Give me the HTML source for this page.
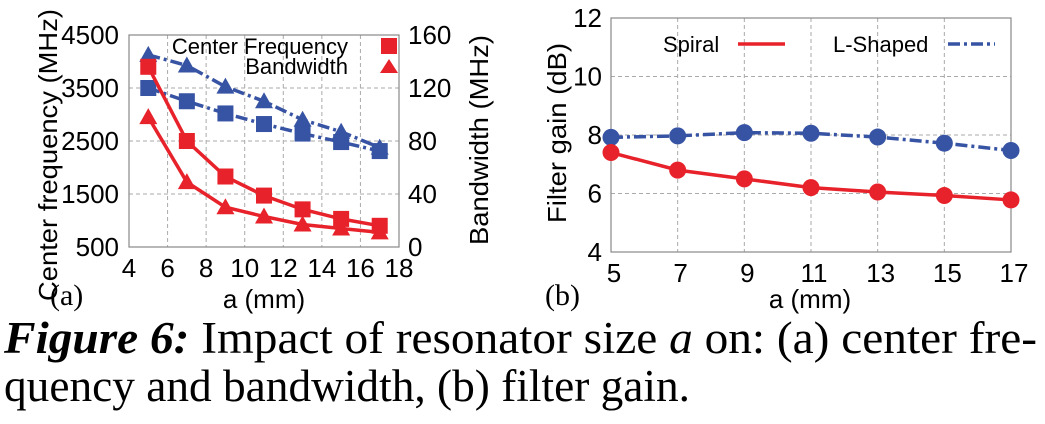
<!DOCTYPE html>
<html><head><meta charset="utf-8"><style>
html,body{margin:0;padding:0;background:#fff}
svg{display:block}
text{font-family:"Liberation Sans",sans-serif}
.serif{font-family:"Liberation Serif",serif}
</style></head><body>
<svg id="fig" width="1045" height="424" viewBox="0 0 1045 424" xmlns="http://www.w3.org/2000/svg">
<g id="ca"></g>
<g id="cb"></g>
<text class="serif" x="4" y="353" font-size="45" textLength="1033" lengthAdjust="spacingAndGlyphs"><tspan font-weight="bold" font-style="italic">Figure 6:</tspan> Impact of resonator size <tspan font-style="italic">a</tspan> on: (a) center fre-</text>
<text class="serif" x="4" y="401" font-size="45" textLength="686" lengthAdjust="spacingAndGlyphs">quency and bandwidth, (b) filter gain.</text>
</svg>
<script>
const aX = [5,7,9,11,13,15,17];
const aXTicks = [4,6,8,10,12,14,16,18];
const aYTicks = [500,1500,2500,3500,4500];
const aY2Ticks = [0,40,80,120,160];
const spiralFreq = [3900,2500,1830,1470,1210,1030,900];
const spiralBw = [98,49,30,23,17,14,11];
const lshapeFreq = [3500,3250,3020,2820,2640,2480,2310];
const lshapeBw = [145,137,121,110,96,87,75];
const bX = [5,7,9,11,13,15,17];
const bYTicks = [4,6,8,10,12];
const spiralGain = [7.4,6.8,6.5,6.2,6.05,5.93,5.78];
const lshapeGain = [7.92,7.97,8.08,8.06,7.93,7.72,7.47];

const NS="http://www.w3.org/2000/svg";
function mk(parent,tag,attrs,txt){const e=document.createElementNS(NS,tag);for(const k in attrs)e.setAttribute(k,attrs[k]);if(txt!==undefined)e.textContent=txt;parent.appendChild(e);return e;}
const RED="#e8222a", BLUE="#3753a3";

// Chart A
const ga=document.getElementById('ca');
const A={l:129,r:399,t:35,b:247};
const ax=v=>A.l+(v-4)/(18-4)*(A.r-A.l);
const ay=v=>A.b-(v-500)/(4500-500)*(A.b-A.t);
const ay2=v=>A.b-(v-0)/160*(A.b-A.t);
aXTicks.forEach(v=>{
  if(v>4&&v<18){let g=mk(ga,'line',{x1:ax(v),x2:ax(v),y1:A.t,y2:A.b,stroke:'#aaa','stroke-dasharray':'4,3'});}
  let t=mk(ga,'text',{x:ax(v),y:277,'font-size':26,'text-anchor':'middle'},v);
});
aYTicks.forEach(v=>{
  if(v>500&&v<4500){let g=mk(ga,'line',{x1:A.l,x2:A.r,y1:ay(v),y2:ay(v),stroke:'#aaa','stroke-dasharray':'4,3'});}
  let t=mk(ga,'text',{x:119,y:ay(v)+9,'font-size':26,'text-anchor':'end'},v);
});
aY2Ticks.forEach(v=>{
  let t=mk(ga,'text',{x:408,y:ay2(v)+9,'font-size':26},v);
});
let fa=mk(ga,'rect',{x:A.l,y:A.t,width:A.r-A.l,height:A.b-A.t,fill:'none',stroke:'#888','stroke-width':1.2});

function series(g,xs,ys,fx,fy,color,dash,marker,name){
  const pts=xs.map((x,i)=>fx(x)+','+fy(ys[i])).join(' ');
  const attrs={points:pts,fill:'none',stroke:color,'stroke-width':3.5};
  if(dash)attrs['stroke-dasharray']=dash;
  const pl=mk(g,'polyline',attrs);
  
  
  xs.forEach((x,i)=>{
    const cx=fx(x),cy=fy(ys[i]);let m;
    if(marker==='sq')m=mk(g,'rect',{x:cx-8,y:cy-8,width:16,height:16,fill:color});
    else if(marker==='tri')m=mk(g,'polygon',{points:`${cx},${cy-9} ${cx+9},${cy+7} ${cx-9},${cy+7}`,fill:color});
    else m=mk(g,'circle',{cx:cx,cy:cy,r:8.5,fill:color});
    
    
  });
}
series(ga,aX,lshapeBw,ax,ay2,BLUE,'12,4,3,4','tri','lshape-bandwidth');
series(ga,aX,lshapeFreq,ax,ay,BLUE,'12,4,3,4','sq','lshape-frequency');
series(ga,aX,spiralBw,ax,ay2,RED,null,'tri','spiral-bandwidth');
series(ga,aX,spiralFreq,ax,ay,RED,null,'sq','spiral-frequency');
let t;
t=mk(ga,'text',{x:348,y:54,'font-size':22,'text-anchor':'end'},'Center Frequency');
t=mk(ga,'rect',{x:381,y:38,width:16,height:16,fill:RED});
t=mk(ga,'text',{x:348,y:74,'font-size':22,'text-anchor':'end'},'Bandwidth');
t=mk(ga,'polygon',{points:'389,59 398,73 380,73',fill:RED});
t=mk(ga,'text',{x:0,y:0,'font-size':26,'text-anchor':'middle',transform:'translate(57,155) rotate(-90)',textLength:292,lengthAdjust:'spacingAndGlyphs'},'Center frequency (MHz)');
t=mk(ga,'text',{x:0,y:0,'font-size':26,'text-anchor':'middle',transform:'translate(488,140) rotate(-90)',textLength:210,lengthAdjust:'spacingAndGlyphs'},'Bandwidth (MHz)');
t=mk(ga,'text',{x:264,y:308,'font-size':26,'text-anchor':'middle'},'a (mm)');
t=mk(ga,'text',{x:50,y:305,'font-size':30,'class':'serif'},'(a)');

// Chart B
const gb=document.getElementById('cb');
const B={l:611,r:1011,t:18,b:252};
const bx=v=>B.l+(v-5)/(17-5)*(B.r-B.l);
const by=v=>B.b-(v-4)/(12-4)*(B.b-B.t);
bX.forEach(v=>{
  if(v>5&&v<17){let g=mk(gb,'line',{x1:bx(v),x2:bx(v),y1:B.t,y2:B.b,stroke:'#aaa','stroke-dasharray':'4,3'});}
  let tt=mk(gb,'text',{x:bx(v)+3,y:282,'font-size':26,'text-anchor':'middle'},v);
});
bYTicks.forEach(v=>{
  if(v>4&&v<12){let g=mk(gb,'line',{x1:B.l,x2:B.r,y1:by(v),y2:by(v),stroke:'#aaa','stroke-dasharray':'4,3'});}
  let tt=mk(gb,'text',{x:602,y:by(v)+9,'font-size':26,'text-anchor':'end'},v);
});
let fb=mk(gb,'rect',{x:B.l,y:B.t,width:B.r-B.l,height:B.b-B.t,fill:'none',stroke:'#888','stroke-width':1.2});

series(gb,bX,lshapeGain,bx,by,BLUE,'12,4,3,4','circ','lshape-gain');
series(gb,bX,spiralGain,bx,by,RED,null,'circ','spiral-gain');
t=mk(gb,'text',{x:663,y:52,'font-size':22},'Spiral');
t=mk(gb,'line',{x1:738,x2:785,y1:44,y2:44,stroke:RED,'stroke-width':3.5});
t=mk(gb,'text',{x:833,y:52,'font-size':22},'L-Shaped');
t=mk(gb,'line',{x1:948,x2:995,y1:44,y2:44,stroke:BLUE,'stroke-width':3.5,'stroke-dasharray':'12,4,3,4'});
t=mk(gb,'text',{x:0,y:0,'font-size':26,'text-anchor':'middle',transform:'translate(566,133) rotate(-90)',textLength:180,lengthAdjust:'spacingAndGlyphs'},'Filter gain (dB)');
t=mk(gb,'text',{x:810,y:308,'font-size':26,'text-anchor':'middle'},'a (mm)');
t=mk(gb,'text',{x:545,y:305,'font-size':30,'class':'serif'},'(b)');
</script>
</body></html>
